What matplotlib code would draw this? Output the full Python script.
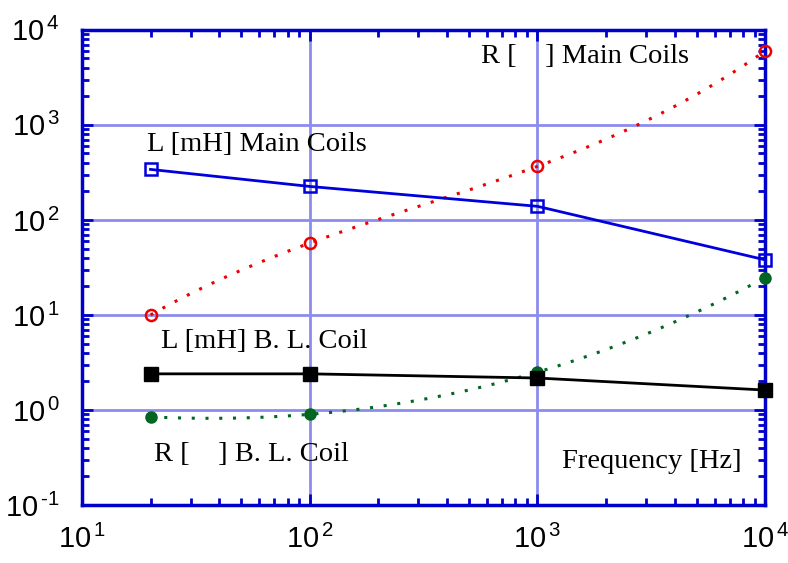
import numpy as np
import matplotlib
matplotlib.use("Agg")
import matplotlib.pyplot as plt
from matplotlib.ticker import LogLocator, FixedLocator, NullFormatter

# Measured coil data versus frequency
freq = [20, 100, 1000, 10000]
L_main = [340, 225, 139, 38]        # inductance of main coils [mH]
R_main = [10, 57, 366, 6000]        # resistance of main coils [Ohm]
L_bl = [2.4, 2.4, 2.17, 1.62]       # inductance of B. L. coil [mH]
R_bl = [0.845, 0.90, 2.5, 24.7]     # resistance of B. L. coil [Ohm]

xtick_vals = [1e1, 1e2, 1e3, 1e4]
ytick_vals = [1e-1, 1e0, 1e1, 1e2, 1e3, 1e4]
xtick_labels = [r"$10^{\,1}$", r"$10^{\,2}$", r"$10^{\,3}$", r"$10^{\,4}$"]
ytick_labels = [r"$10^{\,\text{-}1}$", r"$10^{\,0}$", r"$10^{\,1}$", r"$10^{\,2}$",
                r"$10^{\,3}$", r"$10^{\,4}$"]

plt.rcParams["mathtext.fontset"] = "custom"
plt.rcParams["mathtext.rm"] = "Liberation Sans"
plt.rcParams["mathtext.it"] = "Liberation Sans"
plt.rcParams["font.family"] = ["Liberation Sans", "DejaVu Sans"]

AXBLUE = "#0000cc"
GRIDBLUE = "#8c8cee"

fig = plt.figure(figsize=(7.88, 5.63), dpi=100)
ax = fig.add_axes([0.104, 0.103, 0.867, 0.844])
ax.set_xscale("log")
ax.set_yscale("log")
ax.set_xlim(1e1, 1e4)
ax.set_ylim(1e-1, 1e4)


def smooth(xs, ys, n=200):
    """Cubic through the points in log-log space, for the resistance traces."""
    lx, ly = np.log10(xs), np.log10(ys)
    coef = np.polyfit(lx, ly, 3)
    gx = np.linspace(lx[0], lx[-1], n)
    return 10 ** gx, 10 ** np.polyval(coef, gx)


dot = (0, (1.0, 3.5))

# Main coils
ax.plot(freq, L_main, color="#0000dd", lw=2, marker="s", ms=8.5, mfc="none",
        mec="#0000dd", mew=1.8, clip_on=False, zorder=4)
sx, sy = smooth(freq, R_main)
ax.plot(sx, sy, color="#ee0000", lw=2.2, linestyle=dot, clip_on=False, zorder=3)
ax.plot(freq, R_main, color="#ee0000", lw=0, marker="o", ms=8, mfc="none",
        mec="#ee0000", mew=1.8, clip_on=False, zorder=4)

# B. L. coil
sx, sy = smooth(freq, R_bl)
ax.plot(sx, sy, color="#006622", lw=2.2, linestyle=dot, clip_on=False, zorder=3)
ax.plot(freq, R_bl, color="#006622", lw=0, marker="o", ms=8, mfc="#006622",
        mec="#006622", clip_on=False, zorder=4)
ax.plot(freq, L_bl, color="black", lw=2, marker="s", ms=9.5, mfc="black",
        mec="black", clip_on=False, zorder=5)

# Grid, spines and ticks
ax.grid(True, which="major", color=GRIDBLUE, lw=2)
ax.set_axisbelow(True)
for sp in ax.spines.values():
    sp.set_color(AXBLUE)
    sp.set_linewidth(2.5)

ax.xaxis.set_major_locator(FixedLocator(xtick_vals))
ax.yaxis.set_major_locator(FixedLocator(ytick_vals))
ax.set_xticklabels(xtick_labels)
ax.set_yticklabels(ytick_labels)
ax.xaxis.set_minor_locator(LogLocator(base=10, subs=np.arange(2, 10)))
ax.yaxis.set_minor_locator(LogLocator(base=10, subs=np.arange(2, 10)))
ax.xaxis.set_minor_formatter(NullFormatter())
ax.yaxis.set_minor_formatter(NullFormatter())
ax.tick_params(which="both", direction="in", top=True, right=True,
               color=AXBLUE, width=2)
ax.tick_params(which="major", length=8)
ax.tick_params(which="minor", length=5)
ax.tick_params(axis="x", which="major", labelsize=21, pad=14, labelcolor="black")
ax.tick_params(axis="y", which="major", labelsize=21, pad=16, labelcolor="black")

# Annotations
serif = dict(family=["Liberation Serif", "DejaVu Serif"], fontsize=20.5,
             color="black", va="baseline")
ax.text(0.095, 0.746, "L [mH] Main Coils", transform=ax.transAxes, **serif)
ax.text(0.584, 0.930, "R [    ] Main Coils", transform=ax.transAxes, **serif)
ax.text(0.116, 0.330, "L [mH] B. L. Coil", transform=ax.transAxes, **serif)
ax.text(0.105, 0.093, "R [    ] B. L. Coil", transform=ax.transAxes, **serif)
ax.text(0.703, 0.078, "Frequency [Hz]", transform=ax.transAxes, **serif)

fig.savefig("out.png", dpi=100)
